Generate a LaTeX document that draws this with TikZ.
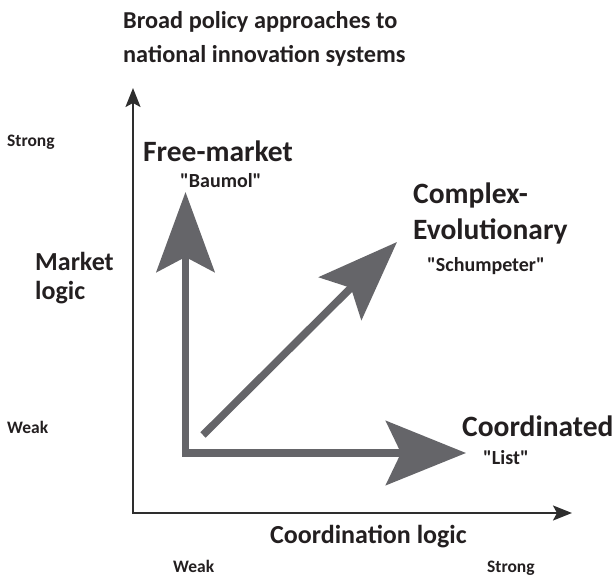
\documentclass[tikz,border=0pt]{standalone}
\usepackage{fontspec}
\setmainfont{Carlito}
\newfontfamily\qfont{Carlito}[Ligatures=Common]
\usetikzlibrary{arrows.meta}
\definecolor{arrowgray}{HTML}{656569}
\definecolor{axisdark}{HTML}{2E2E2E}
\definecolor{textdark}{HTML}{231F20}
\tikzset{
  lbl/.style={anchor=base west, inner sep=0pt, text=textdark},
  big/.style={lbl, font=\bfseries\fontsize{29.5}{31}\selectfont},
  mid/.style={lbl, font=\bfseries\fontsize{26}{28}\selectfont},
  ttl/.style={lbl, font=\bfseries\fontsize{24.3}{26}\selectfont},
  quote/.style={lbl, font=\qfont\bfseries\fontsize{20}{22}\selectfont},
  small/.style={lbl, font=\bfseries\fontsize{17.5}{19}\selectfont},
  axisline/.style={draw=axisdark, line width=2pt,
    arrows={Stealth[length=19pt,width=15pt,inset=4pt]-Stealth[length=19pt,width=15pt,inset=4pt]}},
  bigarrow/.style={draw=arrowgray, line width=7.5pt, miter limit=10,
    -{Stealth[length=80pt,width=60pt,inset=15pt]}},
  bigarrowboth/.style={draw=arrowgray, line width=7.5pt, miter limit=10,
    {Stealth[length=80pt,width=58pt,inset=15pt]}-{Stealth[length=80pt,width=64pt,inset=15pt]}}
}
\begin{document}
\begin{tikzpicture}[x=1pt,y=-1pt]
\useasboundingbox (0,0) rectangle (614,575);
% title
\node[ttl] (title1) at (123,29) {Broad policy approaches to};
\node[ttl] (title2) at (123,63) {national innovation systems};
% axes
\coordinate (ytop) at (133,88);
\coordinate (origin) at (133,513);
\coordinate (xend) at (572,513);
\draw[axisline] (ytop) -- (origin) -- (xend);
% thick arrows
\coordinate (fmtip) at (185.5,192);
\coordinate (corner) at (185.5,453);
\coordinate (cotip) at (466,453);
\draw[bigarrowboth, line join=miter] (fmtip) -- (corner) -- (cotip);
\coordinate (cetail) at (203,435);
\coordinate (cetip) at (397,242);
\draw[bigarrow] (cetail) -- (cetip);
% axis labels
\node[small] (ystrong) at (7,147) {Strong};
\node[small] (yweak) at (7,433) {Weak};
\node[mid] (market1) at (35,270) {Market};
\node[mid] (market2) at (35,300) {logic};
\node[mid] (coordlogic) at (270,543) {Coordination logic};
\node[small] (xweak) at (173,572) {Weak};
\node[small] (xstrong) at (487,572) {Strong};
% approach labels
\node[big] (freemarket) at (143,162) {Free-market};
\node[quote] (baumol) at (180,188) {"Baumol"};
\node[big] (complex) at (413,204) {Complex-};
\node[big] (evol) at (413,240) {Evolutionary};
\node[quote] (schump) at (427,272) {"Schumpeter"};
\node[big] (coord) at (462,436) {Coordinated};
\node[quote] (list) at (483,464) {"List"};
\end{tikzpicture}
\end{document}
